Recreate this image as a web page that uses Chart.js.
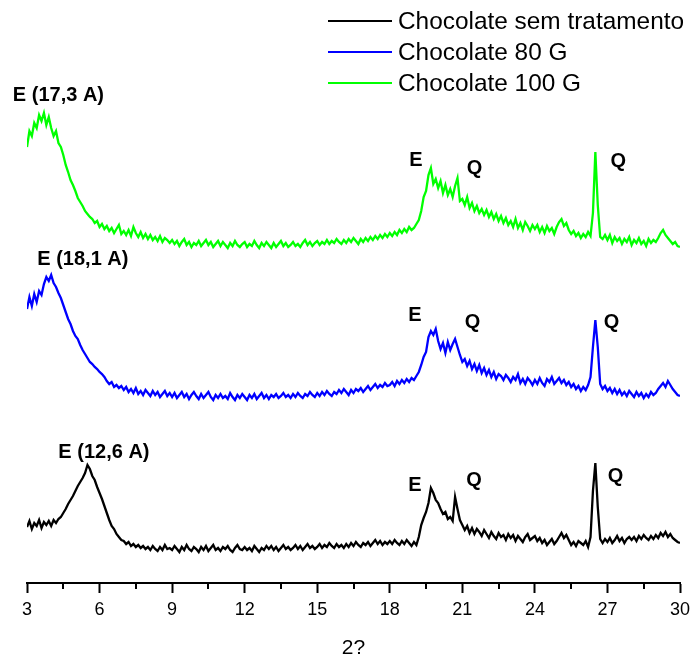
<!DOCTYPE html>
<html>
<head>
<meta charset="utf-8">
<script src="https://cdn.jsdelivr.net/npm/chart.js@4.4.1/dist/chart.umd.min.js"></script>
<style>
html,body{margin:0;padding:0;background:#fff;}
#wrap{width:692px;height:657px;}
</style>
</head>
<body>
<div id="wrap"><canvas id="c" width="692" height="657"></canvas></div>
<script>
// 2-theta positions (degrees)
const twoTheta = [
3.0,3.1,3.2,3.3,3.4,3.5,3.6,3.7,3.8,3.9,
4.0,4.1,4.2,4.3,4.4,4.5,4.6,4.7,4.8,4.9,
5.0,5.1,5.2,5.3,5.4,5.5,5.6,5.7,5.8,5.9,
6.0,6.1,6.2,6.3,6.4,6.5,6.6,6.7,6.8,6.9,
7.0,7.1,7.2,7.3,7.4,7.5,7.6,7.7,7.8,7.9,
8.0,8.1,8.2,8.3,8.4,8.5,8.6,8.7,8.8,8.9,
9.0,9.1,9.2,9.3,9.4,9.5,9.6,9.7,9.8,9.9,
10.0,10.1,10.2,10.3,10.4,10.5,10.6,10.7,10.8,10.9,
11.0,11.1,11.2,11.3,11.4,11.5,11.6,11.7,11.8,11.9,
12.0,12.1,12.2,12.3,12.4,12.5,12.6,12.7,12.8,12.9,
13.0,13.1,13.2,13.3,13.4,13.5,13.6,13.7,13.8,13.9,
14.0,14.1,14.2,14.3,14.4,14.5,14.6,14.7,14.8,14.9,
15.0,15.1,15.2,15.3,15.4,15.5,15.6,15.7,15.8,15.9,
16.0,16.1,16.2,16.3,16.4,16.5,16.6,16.7,16.8,16.9,
17.0,17.1,17.2,17.3,17.4,17.5,17.6,17.7,17.8,17.9,
18.0,18.1,18.2,18.3,18.4,18.5,18.6,18.7,18.8,18.9,
19.0,19.1,19.2,19.3,19.4,19.5,19.6,19.7,19.8,19.9,
20.0,20.1,20.2,20.3,20.4,20.5,20.6,20.7,20.8,20.9,
21.0,21.1,21.2,21.3,21.4,21.5,21.6,21.7,21.8,21.9,
22.0,22.1,22.2,22.3,22.4,22.5,22.6,22.7,22.8,22.9,
23.0,23.1,23.2,23.3,23.4,23.5,23.6,23.7,23.8,23.9,
24.0,24.1,24.2,24.3,24.4,24.5,24.6,24.7,24.8,24.9,
25.0,25.1,25.2,25.3,25.4,25.5,25.6,25.7,25.8,25.9,
26.0,26.1,26.2,26.3,26.4,26.5,26.6,26.7,26.8,26.9,
27.0,27.1,27.2,27.3,27.4,27.5,27.6,27.7,27.8,27.9,
28.0,28.1,28.2,28.3,28.4,28.5,28.6,28.7,28.8,28.9,
29.0,29.1,29.2,29.3,29.4,29.5,29.6,29.7,29.8,29.9,
30.0];

// Intensities (arbitrary units, curves stacked with vertical offsets as in the figure)
const semTratamento = [
56,62,54,60,57,63,55,61,58,62,
57,63,60,64,66,70,74,79,83,87,
92,97,101,105,110,118,114,107,103,96,
90,84,77,70,63,57,54,49,46,43,
42,39,41,37,39,36,38,35,37,34,
36,33,37,34,32,36,33,38,34,35,
33,37,34,31,36,33,38,34,32,36,
34,31,36,33,37,32,35,38,33,35,
32,36,34,37,33,31,35,38,34,33,
36,33,35,32,37,34,31,35,33,37,
34,37,33,36,32,35,38,34,36,33,
35,38,34,37,33,36,39,35,37,34,
36,39,35,38,36,40,37,35,39,36,
38,35,39,36,40,37,41,38,36,40,
38,41,37,40,43,39,42,38,41,39,
42,39,43,40,38,42,39,43,40,37,
41,38,46,58,65,71,80,95,90,83,
80,74,69,71,64,66,62,86,74,63,
58,53,57,50,55,49,54,51,47,53,
49,45,51,47,44,50,46,48,43,49,
45,48,42,47,44,41,46,49,43,45,
47,42,45,40,43,38,41,44,39,42,
46,50,45,48,43,38,41,37,42,40,
38,42,36,46,92,120,76,44,40,44,
41,45,40,43,47,42,45,40,44,46,
43,46,42,47,44,48,45,43,47,44,
48,45,50,47,51,46,49,45,43,41,
40];

const choc80G = [
274,286,277,289,281,292,288,299,306,302,
308,300,296,290,285,278,271,264,259,252,
247,244,238,233,229,225,221,219,216,214,
211,209,206,202,199,201,196,198,195,197,
193,196,191,194,190,195,189,192,188,193,
190,187,192,188,191,186,189,192,187,190,
186,190,185,188,191,186,189,184,188,191,
187,184,189,185,188,191,186,183,188,185,
189,185,187,184,190,186,183,188,185,189,
186,183,188,185,189,184,187,190,185,188,
184,188,186,189,185,187,190,186,188,185,
189,186,190,187,185,189,187,191,188,186,
190,187,191,188,192,189,187,191,189,193,
190,194,191,188,193,190,194,192,195,191,
194,197,193,196,199,195,198,196,200,197,
198,201,197,202,199,203,200,204,201,205,
203,207,211,218,226,231,246,252,248,254,
242,234,240,230,241,233,239,244,236,228,
221,224,217,222,214,219,212,218,210,215,
208,213,206,211,204,209,207,203,208,205,
201,206,203,209,200,204,199,205,202,198,
203,199,205,200,197,204,201,206,199,202,
205,200,203,198,201,196,199,194,197,192,
196,193,198,206,236,263,236,199,194,197,
192,195,190,194,189,193,188,191,187,192,
189,186,191,187,190,185,189,186,191,188,
190,194,197,200,196,202,198,194,191,188,
187];

const choc100G = [
436,452,447,460,455,468,462,470,458,466,
455,447,452,440,436,428,418,411,403,398,
392,385,381,377,372,369,366,364,360,362,
356,359,354,357,352,355,350,354,358,349,
352,348,353,347,356,350,346,351,345,349,
344,348,343,346,342,347,341,345,343,340,
343,339,342,337,341,344,338,341,336,340,
338,342,337,340,343,338,341,336,339,342,
337,341,338,335,340,337,342,338,336,339,
341,336,339,337,342,338,335,340,337,341,
338,335,340,336,339,342,337,340,336,338,
341,337,339,336,340,343,338,341,337,340,
342,338,341,339,343,339,342,340,344,341,
339,343,340,344,341,345,342,339,344,341,
345,342,346,343,347,344,348,345,349,346,
350,347,351,348,353,350,354,351,356,353,
355,359,363,372,386,392,408,415,399,404,
395,402,390,398,388,394,386,397,405,382,
384,378,386,375,380,372,377,370,374,368,
373,366,371,364,369,362,367,360,365,358,
362,356,364,355,360,353,361,357,352,358,
354,358,351,356,350,357,352,355,349,356,
361,364,357,360,353,349,352,347,350,345,
349,346,351,347,370,431,378,346,344,348,
343,348,340,346,342,345,339,344,341,346,
338,343,340,345,339,342,337,344,340,343,
341,345,350,353,348,345,342,339,341,337,
336];

const seriesNames = ["Chocolate sem tratamento", "Chocolate 80 G", "Chocolate 100 G"];
const seriesColors = ["#000000", "#0000ff", "#00ff00"];
const majorTicks = [3,6,9,12,15,18,21,24,27,30];
const minorTicks = [4.5,7.5,10.5,13.5,16.5,19.5,22.5,25.5,28.5];
const axisTitle = "2?";

// peak annotations: text, 2-theta, intensity level
const peakLabels = [
  {t:"E (17,3 A)", x:4.30, y:488},
  {t:"E (18,1 A)", x:5.31, y:324},
  {t:"E (12,6 A)", x:6.18, y:131},
  {t:"E", x:19.08, y:423},
  {t:"Q", x:21.50, y:415},
  {t:"Q", x:27.45, y:422},
  {t:"E", x:19.04, y:268},
  {t:"Q", x:21.42, y:261},
  {t:"Q", x:27.17, y:261},
  {t:"E", x:19.04, y:98},
  {t:"Q", x:21.48, y:103},
  {t:"Q", x:27.33, y:107}
];

const FAM = "'Liberation Sans', Arial, Helvetica, sans-serif";

function pts(vals){ return twoTheta.map((x,i)=>({x:x, y:vals[i]})); }

const extras = {
  id:'extras',
  afterDraw(chart){
    const ctx = chart.ctx;
    const xs = chart.scales.x, ys = chart.scales.y;
    const bottom = chart.chartArea.bottom;
    ctx.save();
    // minor ticks
    ctx.strokeStyle = '#000'; ctx.lineWidth = 2;
    minorTicks.forEach(v=>{
      const px = Math.round(xs.getPixelForValue(v));
      ctx.beginPath(); ctx.moveTo(px, bottom); ctx.lineTo(px, bottom+6); ctx.stroke();
    });
    // peak labels
    ctx.fillStyle = '#000';
    ctx.font = "bold 20px " + FAM;
    ctx.textAlign = 'center'; ctx.textBaseline = 'middle';
    peakLabels.forEach(p=>{
      ctx.fillText(p.t, xs.getPixelForValue(p.x), ys.getPixelForValue(p.y));
    });
    // legend
    ctx.font = "24.4px " + FAM;
    ctx.textAlign = 'left';
    const rows = [21, 52, 83];
    seriesNames.forEach((n,i)=>{
      ctx.strokeStyle = seriesColors[i]; ctx.lineWidth = 2;
      ctx.beginPath(); ctx.moveTo(328, rows[i]); ctx.lineTo(392, rows[i]); ctx.stroke();
      ctx.fillStyle = '#000';
      ctx.fillText(n, 398, rows[i]+1);
    });
    ctx.restore();
  }
};

new Chart(document.getElementById('c'), {
  type: 'line',
  data: {
    datasets: [
      {label: seriesNames[0], data: pts(semTratamento), borderColor: seriesColors[0]},
      {label: seriesNames[1], data: pts(choc80G), borderColor: seriesColors[1]},
      {label: seriesNames[2], data: pts(choc100G), borderColor: seriesColors[2]}
    ]
  },
  options: {
    responsive: false,
    animation: false,
    devicePixelRatio: 1,
    datasets: { line: { borderWidth: 2.3, pointRadius: 0, tension: 0, fill: false } },
    layout: { padding: { left: 27, right: 12, top: 0, bottom: 0 } },
    plugins: { legend: { display: false }, tooltip: { enabled: false } },
    scales: {
      x: {
        type: 'linear', min: 3, max: 30,
        afterBuildTicks: s => { s.ticks = majorTicks.map(v => ({value: v})); },
        afterFit: s => { s.height = 74; s.paddingLeft = 0; s.paddingRight = 0; },
        ticks: { color: '#000', font: { size: 18, family: FAM }, padding: 6, maxRotation: 0, autoSkip: false },
        grid: { drawOnChartArea: false, tickLength: 10, tickWidth: 2, tickColor: '#000' },
        border: { color: '#000', width: 2 },
        title: { display: true, text: axisTitle, color: '#000', font: { size: 21, family: FAM, lineHeight: 0.8 }, padding: { top: 0, bottom: 0 } }
      },
      y: { display: false, min: 0, max: 583 }
    }
  },
  plugins: [extras]
});
</script>
</body>
</html>
